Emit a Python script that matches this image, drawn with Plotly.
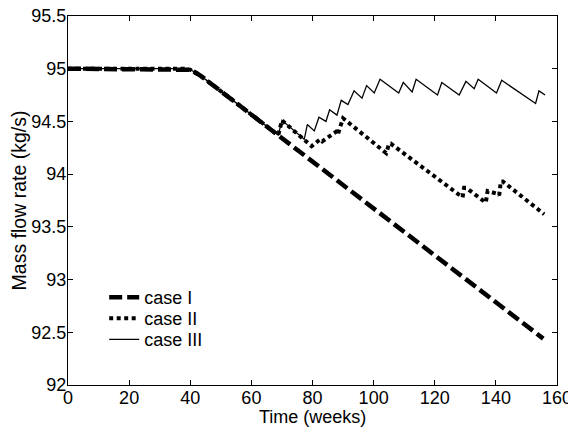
import plotly.graph_objects as go

# Case I
x1 = [0, 38, 40, 42, 44, 155.5]
y1 = [95, 95, 94.99, 94.96, 94.92, 92.44]

# Case II
x2 = [0, 38, 40, 42, 44, 68.8, 70.0, 79.7, 82.5, 83.2, 87.6, 88.2, 90.0,
      104.1, 105.1, 105.6, 129.1, 129.6, 130.3, 136.7, 137.3, 140.8, 141.1,
      141.6, 142.3, 155.8]
y2 = [95, 95, 94.99, 94.96, 94.92, 94.37, 94.51, 94.265, 94.33, 94.31, 94.40, 94.37, 94.53,
      94.20, 94.29, 94.29, 93.78, 93.87, 93.87, 93.73, 93.84, 93.81, 93.80,
      93.93, 93.93, 93.62]

# Case III
x3 = [0, 38, 40, 42, 44, 68.8, 70.0, 77.3, 78.3, 80.6, 82.1, 84.4, 85.6, 88.0,
      89.4, 91.6, 93.6, 96.2, 97.7, 100.2, 102.1, 108.2, 109.7, 112.6, 113.9,
      120.9, 122.3, 128.0, 130.2, 132.9, 134.2, 140.2, 141.9, 153.0, 154.1, 156.1]
y3 = [95, 95, 94.99, 94.96, 94.92, 94.37, 94.51, 94.33, 94.47, 94.41, 94.54, 94.50, 94.61, 94.56,
      94.70, 94.66, 94.79, 94.72, 94.84, 94.77, 94.90, 94.77, 94.87, 94.78, 94.90,
      94.75, 94.87, 94.75, 94.88, 94.81, 94.90, 94.77, 94.89, 94.67, 94.79, 94.75]

x_ticks = [0, 20, 40, 60, 80, 100, 120, 140, 160]
y_ticks = [92, 92.5, 93, 93.5, 94, 94.5, 95, 95.5]

font = "Liberation Sans, Arial, sans-serif"

fig = go.Figure()
fig.add_trace(go.Scatter(x=x1, y=y1, mode="lines", name="case I", legend="legend",
                         line=dict(color="black", width=4.5, dash="13px,5px")))
fig.add_trace(go.Scatter(x=x2, y=y2, mode="lines", name="case II", legend="legend2",
                         line=dict(color="black", width=4, dash="4px,3.5px")))
fig.add_trace(go.Scatter(x=x3, y=y3, mode="lines", name="case III", legend="legend3",
                         line=dict(color="black", width=1.3)))

axis_common = dict(showgrid=False, zeroline=False, showline=True, linecolor="black",
                   linewidth=1.3, mirror="ticks", ticks="inside", ticklen=5,
                   tickcolor="black", automargin=False, ticklabeloverflow="allow",
                   tickfont=dict(family=font, size=18, color="black"))

fig.update_xaxes(range=[0, 160], tickvals=x_ticks, ticklabelstandoff=-4,
                 **axis_common)
fig.update_yaxes(range=[92, 95.5], tickvals=y_ticks, ticklabelstandoff=-3,
                 title=dict(text="Mass flow rate (kg/s)", standoff=0,
                            font=dict(family=font, size=19.5, color="black")),
                 **axis_common)

# x-axis title placed just under the tick labels
fig.add_annotation(text="Time (weeks)", xref="paper", yref="paper",
                   x=0.5, y=0, yshift=-32, xanchor="center", yanchor="middle",
                   showarrow=False, font=dict(family=font, size=18, color="black"))

leg = dict(xanchor="left", yanchor="middle", bgcolor="rgba(0,0,0,0)",
           font=dict(family=font, size=18, color="black"), itemwidth=30)
lx = 0.074
# the page body has an 8px margin, so the figure is sized 8px smaller
fig.update_layout(
    width=568, height=423,
    margin=dict(l=60, r=19, t=8, b=46),
    plot_bgcolor="white", paper_bgcolor="white",
    font=dict(family=font, size=18, color="black"),
    legend=dict(x=lx, y=0.237, **leg),
    legend2=dict(x=lx, y=0.180, **leg),
    legend3=dict(x=lx, y=0.123, **leg),
    showlegend=True,
)

fig.write_html("out.html")
